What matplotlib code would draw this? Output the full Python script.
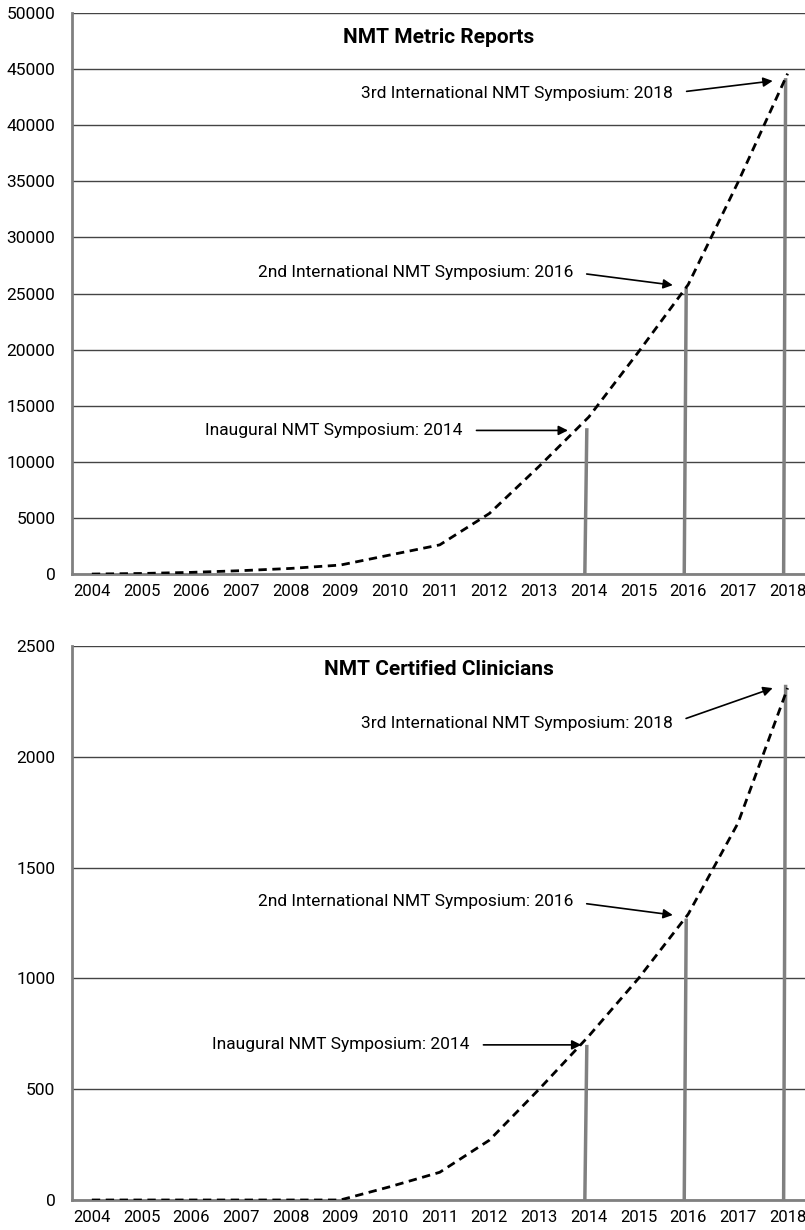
import matplotlib.pyplot as plt

years = list(range(2004, 2019))
reports = [0, 50, 150, 300, 500, 800, 1700, 2600, 5400, 9600,
           14000, 19800, 25800, 34900, 44600]
clinicians = [0, 0, 0, 0, 0, 0, 60, 125, 270, 500,
              740, 1000, 1290, 1700, 2310]

event_years = [2014, 2016, 2018]
report_bars = [13000, 25500, 44200]
clinician_bars = [700, 1270, 2325]
event_labels = ["Inaugural NMT Symposium: 2014",
                "2nd International NMT Symposium: 2016",
                "3rd International NMT Symposium: 2018"]

plt.rcParams['font.family'] = ['Roboto', 'DejaVu Sans']


def draw_panel(ax, values, bars, title, ymax, step, arrow_pts, text_pts):
    ax.set_xlim(2003.6, 2018.35)
    ax.set_ylim(0, ymax)
    ax.set_yticks(range(0, ymax + 1, step))
    ax.set_xticks(years)
    ax.tick_params(length=0)
    ax.tick_params(axis='y', pad=12, labelsize=12.5)
    ax.tick_params(axis='x', pad=7, labelsize=12)
    ax.grid(axis='y', color='#444444', lw=1)
    ax.set_axisbelow(True)
    for s in ['top', 'right']:
        ax.spines[s].set_visible(False)
    for s in ['left', 'bottom']:
        ax.spines[s].set_color('#808080')
        ax.spines[s].set_linewidth(2)

    # vertical event markers
    for yr, h in zip(event_years, bars):
        ax.plot([yr - 0.08, yr - 0.04], [0, h], color='#808080', lw=2.5,
                solid_capstyle='butt', zorder=2)

    ax.plot(years, values, color='black', lw=2,
            linestyle=(0, (3, 2)), zorder=3)

    for label, xy, xyt in zip(event_labels, arrow_pts, text_pts):
        ax.annotate(label, xy=xy, xytext=xyt, ha='right', va='center',
                    fontsize=12.5,
                    arrowprops=dict(arrowstyle='-|>', color='black', lw=1.2,
                                    mutation_scale=14, shrinkA=8, shrinkB=0,
                                    relpos=(1, 0.5)))

    ax.text(0.5, 0.957, title, transform=ax.transAxes, ha='center',
            va='center', fontsize=15, fontweight='bold')


fig = plt.figure(figsize=(8.05, 12.3), dpi=100)
ax1 = fig.add_axes([0.0894, 0.5333, 0.9106, 0.4561])
ax2 = fig.add_axes([0.0894, 0.0244, 0.9106, 0.4504])

draw_panel(ax1, reports, report_bars, "NMT Metric Reports", 50000, 5000,
           [(2013.58, 12800), (2015.69, 25750), (2017.70, 43950)],
           [(2011.46, 12800), (2013.68, 26900), (2015.69, 42870)])
draw_panel(ax2, clinicians, clinician_bars, "NMT Certified Clinicians",
           2500, 500,
           [(2013.85, 700), (2015.69, 1286), (2017.70, 2310)],
           [(2011.6, 700), (2013.68, 1345), (2015.69, 2152)])

fig.savefig("out.png", dpi=100)
